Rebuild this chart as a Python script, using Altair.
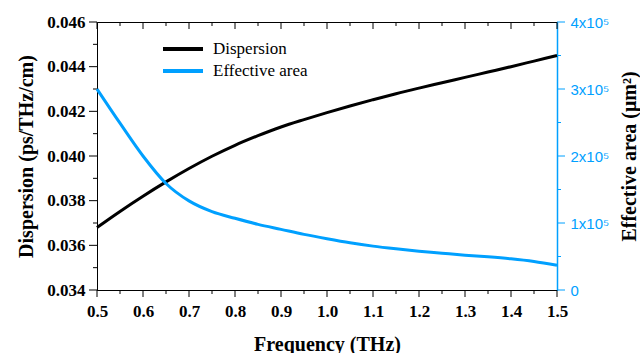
import altair as alt
import pandas as pd

freq = [0.50, 0.55, 0.60, 0.65, 0.70, 0.75, 0.80, 0.85, 0.90, 0.95, 1.00,
        1.05, 1.10, 1.15, 1.20, 1.25, 1.30, 1.35, 1.40, 1.45, 1.50]
dispersion = [0.03680, 0.03752, 0.03820, 0.03884, 0.03944, 0.03999, 0.04048,
              0.04091, 0.04130, 0.04163, 0.04194, 0.04224, 0.04252, 0.04279,
              0.04304, 0.04328, 0.04352, 0.04376, 0.04400, 0.04425, 0.04450]
eff_area = [3.00e5, 2.49e5, 2.00e5, 1.59e5, 1.33e5, 1.17e5, 1.07e5, 0.98e5,
            0.905e5, 0.83e5, 0.765e5, 0.705e5, 0.655e5, 0.615e5, 0.58e5, 0.55e5,
            0.52e5, 0.495e5, 0.465e5, 0.425e5, 0.37e5]

series_names = ["Dispersion", "Effective area"]
series_colors = ["#000000", "#00A0FF"]

x_major = [0.5, 0.6, 0.7, 0.8, 0.9, 1.0, 1.1, 1.2, 1.3, 1.4, 1.5]
x_minor = [0.55, 0.65, 0.75, 0.85, 0.95, 1.05, 1.15, 1.25, 1.35, 1.45]
y1_major = [0.034, 0.036, 0.038, 0.040, 0.042, 0.044, 0.046]
y1_minor = [0.035, 0.037, 0.039, 0.041, 0.043, 0.045]
y2_major = [0, 100000, 200000, 300000, 400000]
y2_minor = [50000, 150000, 250000, 350000]

df = pd.DataFrame({"freq": freq, "disp": dispersion, "area": eff_area})

SERIF = "Liberation Serif"
SANS = "Liberation Sans"
BLUE = series_colors[1]
W, H = 460, 268

color = alt.Color(
    "series:N",
    scale=alt.Scale(domain=series_names, range=series_colors),
    legend=alt.Legend(
        title=None, orient="none", legendX=76, legendY=17, padding=0,
        symbolType="M-2.5,0L2.5,0", symbolSize=256, symbolStrokeWidth=4,
        labelFont=SERIF, labelFontSize=17, labelColor="black",
        rowPadding=4, labelOffset=20, symbolOffset=0,
    ),
)

xscale = alt.Scale(domain=[0.5, 1.5], nice=False, zero=False)
y1scale = alt.Scale(domain=[0.034, 0.046], nice=False, zero=False)
y2scale = alt.Scale(domain=[0, 400000], nice=False)

common = dict(gridOpacity=0, ticks=False, tickSize=0)

x_axis = alt.X("freq:Q", scale=xscale, axis=alt.Axis(
    orient="bottom", values=x_major, title="Frequency (THz)", format=".1f",
    labelFont=SERIF, labelFontWeight="bold", labelFontSize=17, labelColor="black",
    labelPadding=13, labelFlush=False, titleFont=SERIF, titleFontWeight="bold",
    titleFontSize=20, titleColor="black", titlePadding=15,
    domainColor="black", **common))

y1_axis = alt.Y("disp:Q", scale=y1scale, axis=alt.Axis(
    orient="left", values=y1_major, title="Dispersion (ps/THz/cm)", format=".3f",
    labelFont=SERIF, labelFontWeight="bold", labelFontSize=17, labelColor="black",
    labelPadding=12, titleFont=SERIF, titleFontWeight="bold", titleFontSize=20,
    titleColor="black", titlePadding=10, domainColor="black", **common))

y2_axis = alt.Y("area:Q", scale=y2scale, axis=alt.Axis(
    orient="right", values=y2_major, title="Effective area (μm²)",
    labelExpr="datum.value == 0 ? '0' : round(datum.value/100000) + 'x10⁵'",
    labelFont=SANS, labelFontSize=15, labelColor=BLUE, labelPadding=13,
    titleFont=SERIF, titleFontWeight="bold", titleFontSize=20, titleColor="black",
    titleAngle=270, titleX=72, titleY=134, titleAlign="center", titleBaseline="middle",
    domainColor=BLUE, domainWidth=1.5, **common))


def xticks(values, y0, y1):
    return alt.Chart(pd.DataFrame({"v": values})).mark_rule(
        color="black", strokeWidth=1).encode(
        x=alt.X("v:Q", scale=xscale, axis=None),
        y=alt.value(y0), y2=alt.value(y1))


def yticks(values, scale, x0, x1, col):
    return alt.Chart(pd.DataFrame({"v": values})).mark_rule(
        color=col, strokeWidth=1).encode(
        y=alt.Y("v:Q", scale=scale, axis=None),
        x=alt.value(x0), x2=alt.value(x1))


base_disp = alt.Chart(df).transform_calculate(series="'Dispersion'")
base_area = alt.Chart(df).transform_calculate(series="'Effective area'")

disp_line = base_disp.mark_line(strokeWidth=3, interpolate="monotone").encode(
    x=x_axis, y=y1_axis, color=color)

area_line = base_area.mark_line(strokeWidth=3, interpolate="monotone").encode(
    x=alt.X("freq:Q", scale=xscale, axis=None), y=y2_axis, color=color)

left = alt.layer(
    disp_line,
    yticks(y1_major, y1scale, -8, 0, "black"),
    yticks(y1_minor, y1scale, -4, 0, "black"),
    xticks(x_major, H, H + 7),
    xticks(x_minor, H, H + 4),
    xticks(x_major, 0, 7),
    xticks(x_minor, 0, 4),
).resolve_axis(x="independent", y="independent")

right = alt.layer(
    area_line,
    yticks(y2_major, y2scale, W, W + 8, BLUE),
    yticks(y2_minor, y2scale, W, W + 4, BLUE),
).resolve_axis(x="independent", y="independent")

chart = (
    alt.layer(left, right)
    .resolve_scale(y="independent")
    .resolve_axis(x="independent", y="independent")
    .properties(
        width=W, height=H,
        autosize=alt.AutoSizeParams(type="none"),
        padding={"left": 97, "top": 22, "right": 83, "bottom": 63},
        background="white",
    )
    .configure_view(stroke="black", strokeWidth=1)
)

chart.save("out.html", embed_options={"renderer": "svg", "actions": False})
